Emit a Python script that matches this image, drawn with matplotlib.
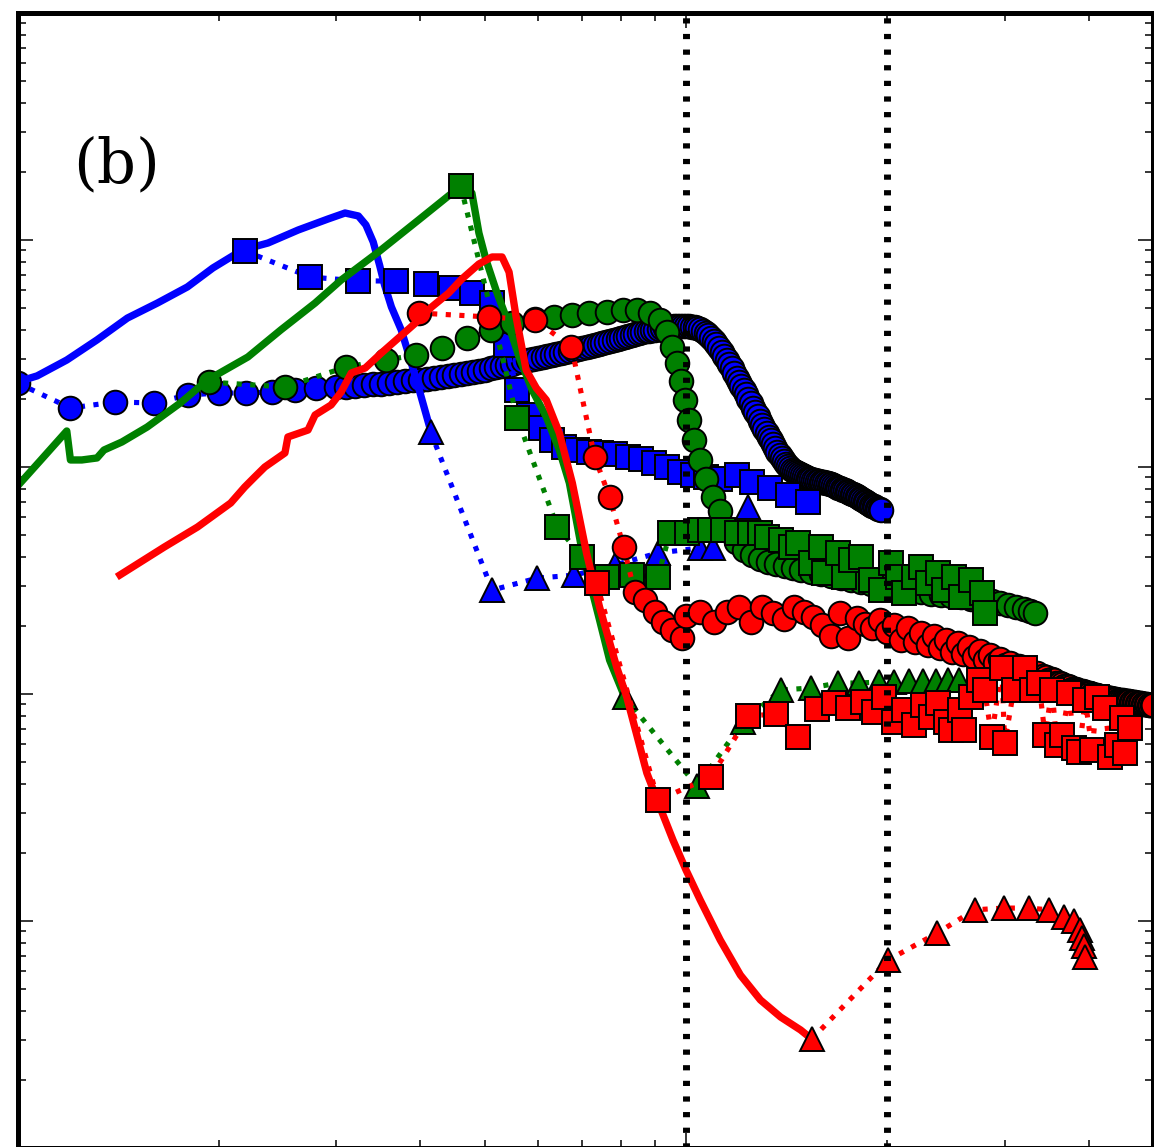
import numpy as np
import matplotlib
matplotlib.use("Agg")
import matplotlib.pyplot as plt
from matplotlib.ticker import LogLocator, NullFormatter

# ---------------- data ----------------
# blue group
blue_line_x = [0.100, 0.107, 0.1185, 0.1315, 0.146, 0.162, 0.1795, 0.196, 0.217, 0.237, 0.263,
               0.2915, 0.309, 0.3235, 0.332, 0.3405, 0.348, 0.354, 0.3625, 0.375, 0.394, 0.412]
blue_line_y = [2370, 2520, 2960, 3630, 4530, 5280, 6210, 7530, 9040, 9700, 11070,
               12380, 13150, 12760, 11650, 9800, 7760, 6340, 5070, 4015, 2490, 1560]

blue_sq_x = [0.2187, 0.274, 0.3235, 0.3688, 0.4077, 0.4446, 0.4783, 0.5126, 0.538, 0.5589, 0.5826,
             0.6073, 0.631, 0.6577, 0.688, 0.7171, 0.7473, 0.7818, 0.818, 0.8558, 0.8952, 0.9364,
             0.9795, 1.0245, 1.0717, 1.1249, 1.1932, 1.2567, 1.3375, 1.4232, 1.5205]
blue_sq_y = [8950, 6870, 6600, 6600, 6400, 6150, 5845, 5276, 3446, 2184, 1695,
             1485, 1315, 1225, 1188, 1165, 1153, 1141, 1107, 1084, 1042, 1000,
             951, 922, 904, 886, 922, 859, 808, 753, 701]

blue_circ_x = [0.10, 0.12, 0.14, 0.16, 0.18, 0.20, 0.22, 0.24, 0.26, 0.28,
               0.30, 0.31, 0.32, 0.33, 0.34, 0.35, 0.36, 0.37, 0.38, 0.39,
               0.40, 0.41, 0.42, 0.43, 0.44, 0.45, 0.46, 0.47, 0.48, 0.49,
               0.50, 0.51, 0.52, 0.53, 0.54, 0.55, 0.56, 0.57, 0.58, 0.59,
               0.60, 0.61, 0.62, 0.63, 0.64, 0.65, 0.66, 0.67, 0.68, 0.69,
               0.70, 0.71, 0.72, 0.73, 0.74, 0.75, 0.76, 0.77, 0.78, 0.79,
               0.80, 0.81, 0.82, 0.83, 0.84, 0.85, 0.86, 0.87, 0.88, 0.89,
               0.90, 0.91, 0.92, 0.93, 0.94, 0.95, 0.96, 0.97, 0.98, 0.99,
               1.00, 1.01, 1.02, 1.03, 1.04, 1.05, 1.06, 1.07, 1.08, 1.09,
               1.10, 1.11, 1.12, 1.13, 1.14, 1.15, 1.16, 1.17, 1.18, 1.19,
               1.20, 1.21, 1.22, 1.23, 1.24, 1.25, 1.26, 1.27, 1.28, 1.29,
               1.30, 1.31, 1.32, 1.33, 1.34, 1.35, 1.36, 1.37, 1.38, 1.39,
               1.40, 1.41, 1.42, 1.43, 1.44, 1.45, 1.46, 1.47, 1.48, 1.49,
               1.50, 1.51, 1.52, 1.53, 1.54, 1.55, 1.56, 1.57, 1.58, 1.59,
               1.60, 1.61, 1.62, 1.63, 1.64, 1.65, 1.66, 1.67, 1.68, 1.69,
               1.70, 1.71, 1.72, 1.73, 1.74, 1.75, 1.76, 1.77, 1.78, 1.79,
               1.80, 1.81, 1.82, 1.83, 1.84, 1.85, 1.86, 1.87, 1.88, 1.89,
               1.90, 1.91, 1.92, 1.93, 1.94, 1.95, 1.96]
blue_circ_y = [2344, 1819, 1934, 1914, 2076, 2118, 2118, 2140, 2184, 2228,
               2251, 2262, 2274, 2297, 2320, 2332, 2344, 2368, 2393, 2405,
               2417, 2442, 2467, 2492, 2517, 2543, 2569, 2595, 2621, 2648,
               2675, 2716, 2757, 2785, 2814, 2857, 2901, 2930, 2960, 2990,
               3021, 3052, 3083, 3115, 3147, 3179, 3211, 3244, 3277, 3310,
               3344, 3378, 3412, 3447, 3483, 3518, 3554, 3590, 3627, 3664,
               3701, 3739, 3777, 3815, 3854, 3893, 3933, 3953, 3973, 3995,
               4018, 4057, 4096, 4116, 4137, 4158, 4179, 4179, 4179, 4179,
               4179, 4160, 4137, 4117, 4096, 4040, 3973, 3900, 3815, 3705,
               3591, 3468, 3344, 3212, 3083, 2960, 2842, 2716, 2595, 2478,
               2367, 2274, 2184, 2087, 1994, 1905, 1819, 1747, 1677, 1602,
               1531, 1470, 1412, 1362, 1315, 1262, 1212, 1170, 1129, 1095,
               1063, 1036, 1010, 990, 970, 960, 951, 941, 931, 922,
               913, 903, 894, 889, 885, 880, 876, 872, 868, 863,
               859, 855, 850, 846, 842, 838, 833, 825, 816, 812,
               808, 800, 792, 788, 784, 776, 768, 764, 760, 752,
               745, 738, 730, 722, 715, 708, 701, 694, 687, 680,
               673, 670, 666, 660, 653, 650, 647]

blue_tri_x = [0.415, 0.513, 0.599, 0.681, 0.782, 0.908, 1.050, 1.098, 1.240]
blue_tri_y = [1426, 287, 324, 334, 370, 418, 440, 440, 666]

# green group
green_line_x = [0.0997, 0.1087, 0.1185, 0.1200, 0.1248, 0.1315, 0.1347, 0.1433, 0.1563, 0.1752,
                0.1924, 0.2211, 0.2477, 0.2787, 0.3049, 0.3466, 0.398, 0.4603, 0.4783, 0.49,
                0.5022, 0.5197, 0.538, 0.5627, 0.5886, 0.618, 0.6464, 0.6691, 0.700, 0.7424,
                0.7686, 0.8095]
green_line_y = [816, 1084, 1441, 1074, 1074, 1096, 1188, 1289, 1500, 1914,
                2417, 3052, 4018, 5276, 6664, 8851, 12250, 17290, 16110, 10740,
                8166, 6022, 4580, 3052, 2184, 1661, 1188, 850, 418, 212,
                141, 97.0]

green_sq_x = [0.4603, 0.5589, 0.642, 0.700, 0.7605, 0.8294, 0.9077, 0.9461, 1.0035, 1.050,
              1.0866, 1.1365, 1.1932, 1.2483, 1.292, 1.3237, 1.385, 1.4334, 1.4689, 1.536,
              1.590, 1.6096, 1.6895, 1.7249, 1.764, 1.826, 1.891, 1.958, 2.027, 2.0763,
              2.1197, 2.194, 2.248, 2.3034, 2.3841, 2.4345, 2.5202, 2.582, 2.673, 2.767, 2.7965]
green_sq_y = [17290, 1644, 544, 401.3, 327.6, 334.4, 327.6, 512.1, 512.1, 528,
              528, 528, 512.1, 512.1, 512.1, 491.6, 476.9, 444, 462.6, 377.6,
              444, 341.2, 418, 327.6, 389, 401.3, 318, 287, 377.6, 327.6,
              278.5, 327.6, 362.7, 308.3, 341.2, 287, 327.6, 267.6, 318, 278.5, 227.5]

green_circ_x = [0.1937, 0.2512, 0.3103, 0.3563, 0.3939, 0.4312, 0.4702, 0.5108, 0.5492, 0.5948,
                0.6353, 0.676, 0.7171, 0.7605, 0.8039, 0.8441, 0.8829, 0.914, 0.9364, 0.9526,
                0.9694, 0.9828, 0.9965, 1.0104, 1.0281, 1.050, 1.0717, 1.098, 1.125,
                1.1565, 1.1891, 1.2225, 1.2567, 1.292, 1.3284, 1.3656, 1.404, 1.4434, 1.484,
                1.536, 1.590, 1.646, 1.704, 1.764, 1.826, 1.891, 1.958, 2.027, 2.098,
                2.172, 2.248, 2.327, 2.410, 2.495, 2.582, 2.673, 2.767, 2.865,
                2.946, 3.029, 3.114, 3.201, 3.268, 3.325]
green_circ_y = [2367, 2251, 2757, 2960, 3114, 3344, 3701, 4018, 4310, 4487,
                4580, 4675, 4770, 4818, 4918, 4918, 4770, 4443, 3933, 3378,
                2872, 2393, 1973, 1611, 1315, 1074, 885, 738, 640,
                528, 467, 431, 410, 393, 381.5, 373.9, 366.4, 359.0, 352,
                344.7, 337.8, 331.1, 324, 318, 311.5, 305.2, 299.1, 293.1, 287,
                284.3, 281.4, 275.8, 273.0, 270.3, 267.6, 262.2, 259, 256.8,
                251.7, 246.6, 241.7, 236.8, 232.1, 227.5]

green_tri_x = [0.8095, 1.0388, 1.218, 1.385, 1.536, 1.6895, 1.814, 1.944, 2.0477, 2.157,
               2.2636, 2.368, 2.469, 2.5645]
green_tri_y = [97.0, 39.3, 75.3, 104.1, 106.3, 111.8, 111.8, 112.9, 112.9, 114.1,
               114.1, 114.1, 115.3, 115.3]

# red group
red_line_x = [0.1423, 0.1658, 0.1859, 0.2084, 0.2187, 0.2264, 0.2344, 0.2512, 0.2538, 0.272,
              0.2787, 0.2945, 0.3049, 0.3157, 0.3313, 0.3502, 0.3714, 0.3939, 0.4164, 0.4416,
              0.462, 0.49, 0.5126, 0.5306, 0.5436, 0.557, 0.5766, 0.5971, 0.618, 0.6464,
              0.676, 0.7098, 0.7424, 0.7875, 0.8153, 0.8737, 0.914, 0.956, 1.0, 1.05,
              1.125, 1.206, 1.292, 1.385, 1.484, 1.542]
red_line_y = [334.4, 444, 544, 694, 816, 904, 1000, 1153, 1356, 1455,
              1695, 1876, 2140, 2595, 2730, 3178, 3701, 4310, 5070, 5841,
              6732, 7840, 8418, 8418, 7227, 4580, 2675, 2228, 1973, 1412,
              850, 418, 241.7, 131.5, 97.0, 44.9, 31.78, 22.74, 16.77, 12.38,
              8.25, 5.78, 4.49, 3.776, 3.31, 3.02]

red_sq_x = [0.735, 0.908, 1.090, 1.240, 1.361, 1.469, 1.568, 1.664, 1.746, 1.840,
            1.911, 1.978, 2.048, 2.120, 2.194, 2.264, 2.327, 2.384, 2.451, 2.495,
            2.565, 2.609, 2.673, 2.739, 2.797, 2.865, 2.966, 2.997, 3.092, 3.212,
            3.291, 3.372, 3.443, 3.527, 3.589, 3.651, 3.741, 3.806, 3.873, 3.954,
            4.051, 4.121, 4.237, 4.311, 4.417, 4.494, 4.541, 4.621]
red_sq_y = [308, 34.1, 43.1, 80.0, 81.6, 64.7, 85.9, 91.3, 86.8, 92.2,
            83.3, 97.0, 75.3, 85.0, 73.0, 89.4, 79.2, 91.3, 75.3, 69.4,
            85.0, 69.4, 97.0, 115.3, 104.1, 64.7, 130.2, 60.8, 104.1, 130.2,
            104.1, 111.8, 65.9, 104.1, 59.6, 65.9, 101.0, 57.8, 55.5, 94.1,
            56.7, 97.0, 86.8, 52.8, 59.6, 78.4, 55.0, 70.8]

red_circ_x = [0.398, 0.507, 0.5948, 0.674, 0.730, 0.7686, 0.8066, 0.8382, 0.8676, 0.8983,
              0.9235, 0.9526, 0.9863,
              1.00, 1.05, 1.10, 1.15, 1.20, 1.25, 1.30, 1.35, 1.40, 1.45, 1.50, 1.55,
              1.60, 1.65, 1.70, 1.75, 1.80, 1.85, 1.90, 1.95, 2.00, 2.05, 2.10, 2.15,
              2.20, 2.25, 2.30, 2.35, 2.40, 2.45, 2.50, 2.55, 2.60, 2.65, 2.70, 2.75,
              2.80, 2.85, 2.90, 2.95,
              3.000, 3.025, 3.050, 3.075, 3.100, 3.125, 3.150, 3.175, 3.200, 3.225,
              3.250, 3.275, 3.300, 3.325, 3.350, 3.375, 3.400, 3.425, 3.450, 3.475,
              3.500, 3.525, 3.550, 3.575, 3.600, 3.625, 3.650, 3.675, 3.700, 3.725,
              3.750, 3.775, 3.800, 3.825, 3.850, 3.875, 3.900, 3.925, 3.950, 3.975,
              4.000, 4.025, 4.050, 4.075, 4.100, 4.125, 4.150, 4.175, 4.200, 4.225,
              4.250, 4.275, 4.300, 4.325, 4.350, 4.375, 4.400, 4.425, 4.450, 4.475,
              4.500, 4.525, 4.550, 4.575, 4.600, 4.625, 4.650, 4.675, 4.700, 4.725,
              4.750, 4.775, 4.800, 4.825, 4.850, 4.875, 4.900, 4.925, 4.950, 4.975,
              5.000]
red_circ_y = [4770, 4580, 4443, 3378, 1107, 738, 444, 281.4, 259, 230,
              207.6, 191, 176.4,
              220.6, 230.0, 207.6, 230.0, 241.7, 207.6, 241.7, 227.5, 214.0, 241.7, 230.0, 218.4,
              201.4, 180.1, 227.5, 176.4, 216.2, 203.4, 195.3, 211.8, 187.6, 201.4, 172.9, 195.3,
              169.5, 185.7, 164.4, 180.1, 159.5, 172.9, 153.1, 167.8, 150.1, 161.1, 145.6, 154.6,
              141.2, 148.5, 136.9, 142.7,
              134.2, 132.8, 136.9, 130.2, 128.9, 131.5, 132.8, 126.3, 125.0, 127.6,
              128.9, 122.5, 121.3, 123.7, 123.7, 118.8, 117.6, 120.0, 118.8, 115.3,
              114.1, 116.4, 115.3, 111.8, 110.7, 111.8, 110.7, 108.4, 107.4, 108.4,
              107.4, 105.2, 105.2, 105.2, 104.1, 103.1, 103.1, 103.1, 102.0, 101.0,
              101.0, 101.0, 100.0, 99.0, 99.0, 99.0, 98.0, 97.0, 97.0, 97.0,
              97.0, 96.0, 96.0, 96.0, 95.1, 95.1, 95.1, 94.1, 94.1, 94.1,
              94.1, 93.2, 93.2, 93.2, 93.2, 92.2, 92.2, 92.2, 92.2, 91.3,
              91.3, 91.3, 91.3, 90.3, 90.3, 90.3, 90.3, 89.4, 89.4, 89.4,
              89.4]

red_tri_x = [1.542, 2.006, 2.376, 2.701, 2.987, 3.257, 3.49, 3.677, 3.806, 3.886, 3.913, 3.94, 3.954]
red_tri_y = [3.021, 6.73, 8.85, 11.2, 11.4, 11.4, 11.2, 10.41, 10.0, 9.13, 8.42, 7.76, 6.94]

vlines_x = [1.0, 2.0]
panel_label = "(b)"

# ---------------- styling ----------------
W, H = 1154, 1147
fig = plt.figure(figsize=(W / 100, H / 100), dpi=100)
ax = fig.add_axes([17.5 / W, -1.0 / H, 1135.8 / W, 1135.0 / H])
ax.set_xscale('log')
ax.set_yscale('log')

BLUE, GREEN, RED = '#0000ff', '#008000', '#ff0000'
LW_SOLID = 5.3
LW_DOT = 3.7
MS = 17
mk = dict(mec='k', mew=1.4, ms=MS)

groups = [
    (BLUE, blue_circ_x, blue_circ_y, blue_line_x, blue_line_y, blue_sq_x, blue_sq_y, blue_tri_x, blue_tri_y),
    (GREEN, green_circ_x, green_circ_y, green_line_x, green_line_y, green_sq_x, green_sq_y, green_tri_x, green_tri_y),
    (RED, red_circ_x, red_circ_y, red_line_x, red_line_y, red_sq_x, red_sq_y, red_tri_x, red_tri_y),
]
for col, cx, cy, lx, ly, sx, sy, tx, ty in groups:
    ax.plot(cx, cy, ls=':', lw=LW_DOT, color=col, marker='o', mfc=col, **mk)
    ax.plot(lx, ly, ls='-', lw=LW_SOLID, color=col)
    ax.plot(sx, sy, ls=':', lw=LW_DOT, color=col, marker='s', mfc=col, **mk)
    ax.plot(tx, ty, ls=':', lw=LW_DOT, color=col, marker='^', mfc=col, **mk)

for xv in vlines_x:
    ax.axvline(xv, color='k', lw=5.0, ls=(0, (0.75, 1.5)), zorder=10)

ax.set_xlim(0.1, 5.0)
ax.set_ylim(1, 1e5)

for s in ax.spines.values():
    s.set_linewidth(3.6)
    s.set_zorder(20)

ax.xaxis.set_major_locator(LogLocator(base=10, numticks=50))
ax.xaxis.set_minor_locator(LogLocator(base=10, subs=np.arange(2, 10), numticks=50))
ax.yaxis.set_major_locator(LogLocator(base=10, numticks=50))
ax.yaxis.set_minor_locator(LogLocator(base=10, subs=np.arange(2, 10), numticks=50))
for axis in (ax.xaxis, ax.yaxis):
    axis.set_major_formatter(NullFormatter())
    axis.set_minor_formatter(NullFormatter())
ax.tick_params(which='both', direction='in', top=True, right=True,
               labelbottom=False, labelleft=False, width=1.1, color='k')
ax.tick_params(which='major', length=10.5)
ax.tick_params(which='minor', length=5.5)

ax.text(0.0876, 0.866, panel_label, transform=ax.transAxes, fontsize=44,
        family='DejaVu Serif', ha='center', va='center', zorder=30)

fig.savefig('out.png', dpi=100)
